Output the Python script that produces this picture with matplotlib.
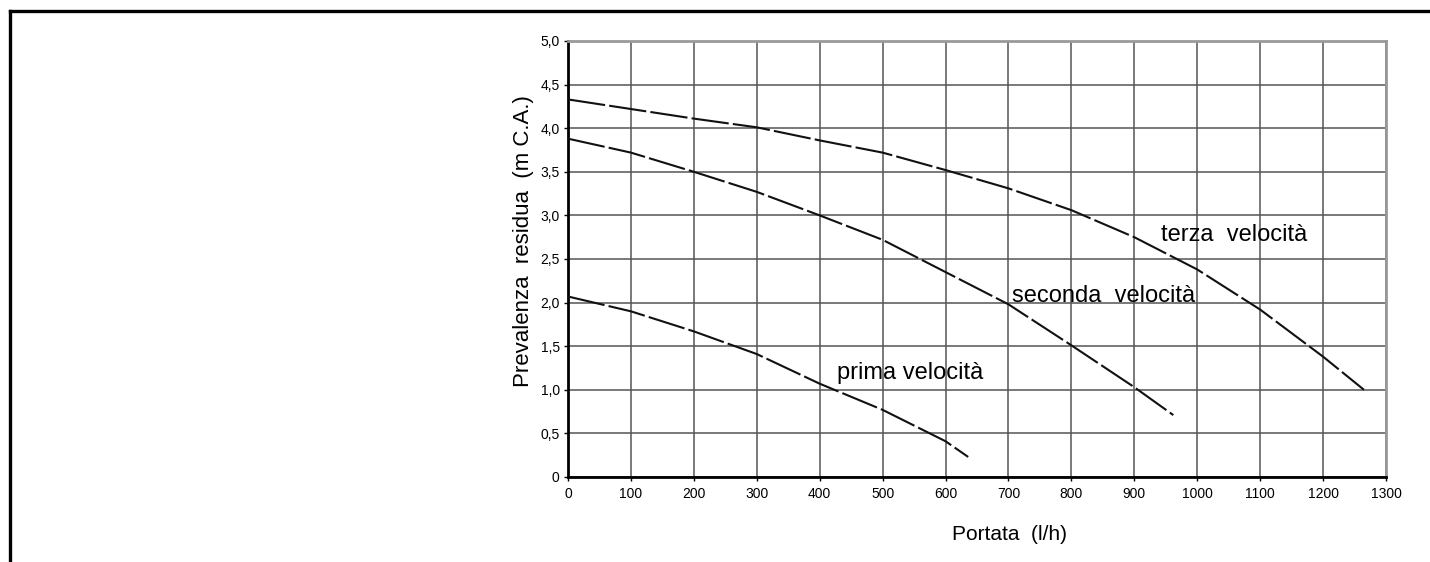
import matplotlib
matplotlib.use("Agg")
import matplotlib.pyplot as plt
from matplotlib.lines import Line2D

# Data
terza_x = [0, 100, 200, 300, 400, 500, 600, 700, 800, 900, 1000, 1100, 1200, 1265]
terza_y = [4.33, 4.22, 4.11, 4.01, 3.86, 3.72, 3.52, 3.31, 3.06, 2.75, 2.38, 1.92, 1.38, 1.00]

seconda_x = [0, 100, 200, 300, 400, 500, 600, 700, 800, 900, 962]
seconda_y = [3.88, 3.72, 3.50, 3.27, 3.00, 2.72, 2.35, 1.98, 1.51, 1.03, 0.71]

prima_x = [0, 100, 200, 300, 400, 500, 600, 636]
prima_y = [2.07, 1.90, 1.67, 1.41, 1.07, 0.77, 0.41, 0.23]

x_ticks = [0, 100, 200, 300, 400, 500, 600, 700, 800, 900, 1000, 1100, 1200, 1300]
y_ticks = [0, 0.5, 1.0, 1.5, 2.0, 2.5, 3.0, 3.5, 4.0, 4.5, 5.0]
y_tick_labels = ["0", "0,5", "1,0", "1,5", "2,0", "2,5", "3,0", "3,5", "4,0", "4,5", "5,0"]

labels = ["terza  velocità", "seconda  velocità", "prima velocità"]
label_pos = [(943, 2.78), (705, 2.07), (428, 1.19)]

plt.rcParams['font.family'] = ['Liberation Sans', 'DejaVu Sans']

W, H = 1430, 562
fig = plt.figure(figsize=(W / 100, H / 100), dpi=100)
ax = fig.add_axes([568/W, 85/H, (1386-568)/W, (477-41)/H])

ax.set_xlim(0, 1300)
ax.set_ylim(0, 5.0)
ax.set_xticks(x_ticks)
ax.set_xticklabels([str(v) for v in x_ticks], fontsize=10)
ax.set_yticks(y_ticks)
ax.set_yticklabels(y_tick_labels, fontsize=10)
ax.tick_params(length=3, width=1, pad=3, colors='black')
ax.tick_params(axis='x', pad=4)

ax.grid(True, color='#555555', linewidth=1.1)
ax.set_axisbelow(True)

for side in ['left', 'bottom']:
    ax.spines[side].set_color('black')
    ax.spines[side].set_linewidth(2)
for side in ['top', 'right']:
    ax.spines[side].set_color('#999999')
    ax.spines[side].set_linewidth(2)

for xs, ys in [(terza_x, terza_y), (seconda_x, seconda_y), (prima_x, prima_y)]:
    ax.plot(xs, ys, color='#111111', linewidth=1.5, dashes=(18, 2), zorder=3)

for txt, (lx, ly) in zip(labels, label_pos):
    ax.text(lx, ly, txt, fontsize=17, ha='left', va='center', color='black')

fig.text(1010/W, 1 - 535/H, "Portata  (l/h)", fontsize=15, ha='center', va='center')
fig.text(523/W, 1 - 241/H, "Prevalenza  residua  (m C.A.)", fontsize=16,
         ha='center', va='center', rotation=90)

# outer frame (top and left)
fig.add_artist(Line2D([10/W, 1.0], [1 - 10.5/H, 1 - 10.5/H], transform=fig.transFigure,
                      color='black', linewidth=2.4))
fig.add_artist(Line2D([10/W, 10/W], [0, 1 - 10.5/H], transform=fig.transFigure,
                      color='black', linewidth=2.4))

fig.savefig("out.png", dpi=100, facecolor='white')
